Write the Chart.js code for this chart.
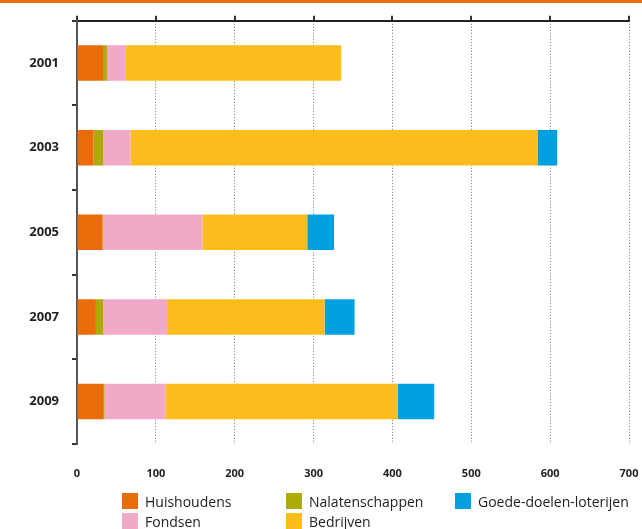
<!DOCTYPE html>
<html>
<head>
<meta charset="utf-8">
<script src="https://cdn.jsdelivr.net/npm/chart.js@4/dist/chart.umd.min.js"></script>
<style>
  html, body { margin: 0; padding: 0; background: #fff; }
  #wrap { position: relative; width: 642px; height: 529px; overflow: hidden; }
  #topband { position: absolute; left: 0; top: 0; width: 642px; height: 3px; background: #ec6c0b; }
  #myChart { position: absolute; left: 0; top: 0; }
  .leg { position: absolute; font-family: "Open Sans", sans-serif; font-size: 14px; color: #222; display: flex; align-items: center; white-space: nowrap; }
  .leg span.box { display: inline-block; width: 16px; height: 16px; margin-right: 7px; }
</style>
</head>
<body>
<div id="wrap">
  <canvas id="myChart" width="642" height="529"></canvas>
  <div id="topband"></div>
  <div id="legend"></div>
</div>
<script>
// jaren (categorieen)
const jaren = ['2001', '2003', '2005', '2007', '2009'];

// bedragen per bron (mln euro)
const huishoudens = [33, 21, 32, 24, 33];
const nalatenschappen = [5, 12, 1, 9, 2];
const fondsen = [24, 35, 126, 81, 77];
const bedrijven = [273, 516, 133, 200, 295];
const loterijen = [0, 25, 34, 38, 46];

const xTicks = [0, 100, 200, 300, 400, 500, 600, 700];

const series = [
  { label: 'Huishoudens', data: huishoudens, color: '#ec6c0b' },
  { label: 'Nalatenschappen', data: nalatenschappen, color: '#adab0a' },
  { label: 'Fondsen', data: fondsen, color: '#f1a9c8' },
  { label: 'Bedrijven', data: bedrijven, color: '#fbbd1c' },
  { label: 'Goede-doelen-loterijen', data: loterijen, color: '#009fe0' }
];

// legenda volgorde zoals in het origineel (3 kolommen)
const legendOrder = [
  ['Huishoudens', 122, 493],
  ['Nalatenschappen', 286, 493],
  ['Goede-doelen-loterijen', 455, 493],
  ['Fondsen', 122, 513],
  ['Bedrijven', 286, 513]
];

const canvas = document.getElementById('myChart');

const chart = new Chart(canvas, {
  type: 'bar',
  data: {
    labels: jaren,
    datasets: series.map(s => ({
      label: s.label,
      data: s.data,
      backgroundColor: s.color,
      borderWidth: 0,
      barPercentage: 0.42,
      categoryPercentage: 1
    }))
  },
  options: {
    indexAxis: 'y',
    responsive: false,
    animation: false,
    layout: { padding: { top: 14, right: 13, bottom: 48, left: 0 } },
    plugins: {
      legend: { display: false },
      tooltip: { enabled: false }
    },
    scales: {
      x: {
        stacked: true,
        min: 0,
        max: 700,
        position: 'bottom',
        afterBuildTicks: scale => { scale.ticks = xTicks.map(v => ({ value: v })); },
        grid: { color: '#777', lineWidth: 1, drawTicks: true, tickLength: 22, tickColor: 'rgba(0,0,0,0)' },
        border: { display: false, dash: [1, 2] },
        ticks: {
          padding: 1,
          color: '#222',
          font: { family: 'Open Sans', size: 11, weight: 'bold' }
        }
      },
      x2: {
        axis: 'x',
        min: 0,
        max: 700,
        position: 'top',
        afterBuildTicks: scale => { scale.ticks = xTicks.map(v => ({ value: v })); },
        grid: { drawOnChartArea: false, drawTicks: true, tickLength: 5, color: '#333', lineWidth: 2 },
        border: { display: true, color: '#222', width: 2 },
        ticks: { display: false }
      },
      y: {
        stacked: true,
        afterFit: scale => { scale.width = 77; },
        grid: { drawOnChartArea: false, drawTicks: true, tickLength: 5, color: '#333', lineWidth: 2, offset: true },
        border: { display: true, color: '#555', width: 2 },
        ticks: {
          padding: 13,
          color: '#222',
          font: { family: 'Open Sans', size: 13, weight: 'bold' }
        }
      }
    }
  }
});

// HTML legenda
const legendEl = document.getElementById('legend');
legendOrder.forEach(([name, left, top]) => {
  const s = series.find(d => d.label === name);
  const item = document.createElement('div');
  item.className = 'leg';
  item.style.left = left + 'px';
  item.style.top = top + 'px';
  item.style.height = '16px';
  item.innerHTML = '<span class="box" style="background:' + s.color + '"></span>' + s.label;
  legendEl.appendChild(item);
});
</script>
</body>
</html>
